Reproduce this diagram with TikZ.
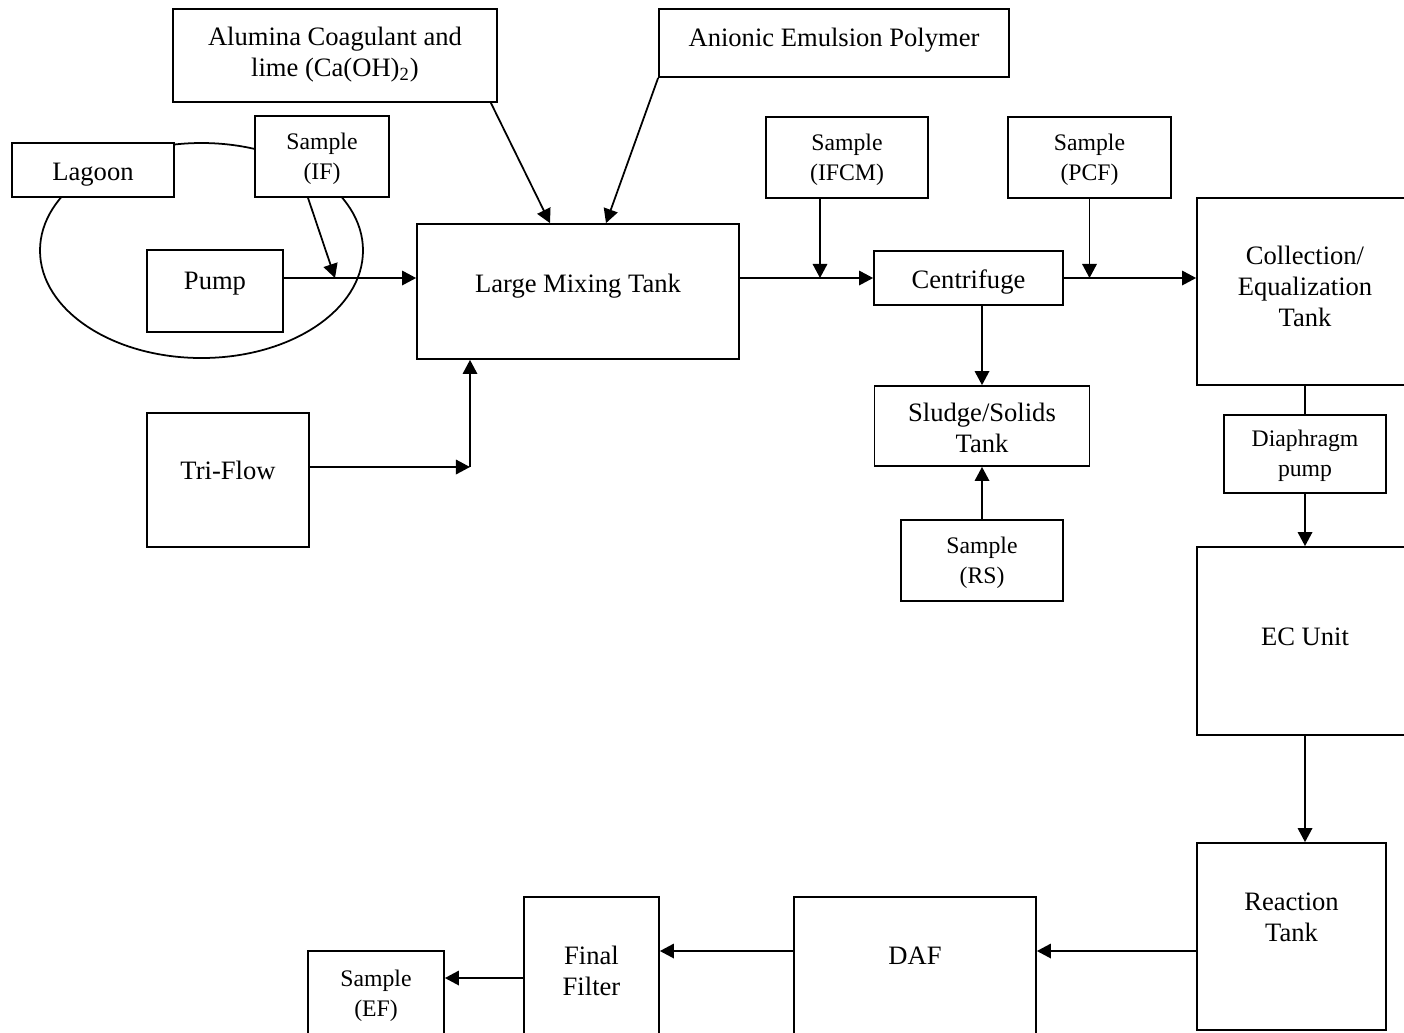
\documentclass[tikz,border=0pt]{standalone}
\usepackage{fontspec}
\setmainfont{Liberation Serif}
\usetikzlibrary{arrows.meta}

\begin{document}
\begin{tikzpicture}[
  block/.style={draw, line width=0.8pt, fill=white, align=center, font=\fontsize{12.1pt}{14.1pt}\selectfont},
  sample/.style={block, font=\fontsize{10.8pt}{13.7pt}\selectfont, text height=20.8pt, text depth=0pt},
  textpos/.style 2 args={text height=#1, text depth=#2},
  pointer/.style={draw, line width=0.8pt, -{Triangle[length=6.4pt,width=6.6pt]}}
]
\useasboundingbox (0,0) rectangle (22.464,-16.512);

% Lagoon loop
\draw[line width=0.8pt] (3.224,-4.008) ellipse (2.584cm and 1.72cm);

% Nodes
\node[block, textpos={18.9pt}{0pt}, minimum width=5.184cm, minimum height=1.488cm] (alum) at (5.36,-0.888) {Alumina Coagulant and\\lime (Ca(OH)\textsubscript{2})};
\node[block, textpos={8.5pt}{5.1pt}, minimum width=5.6cm, minimum height=1.088cm] (poly) at (13.344,-0.688) {Anionic Emulsion Polymer};
\node[block, textpos={9.8pt}{0pt}, minimum width=2.592cm, minimum height=0.864cm] (lagoon) at (1.488,-2.72) {Lagoon};
\node[sample, minimum width=2.144cm, minimum height=1.296cm] (sif) at (5.152,-2.504) {Sample\\(IF)};
\node[block, textpos={8.5pt}{10.1pt}, minimum width=2.176cm, minimum height=1.312cm] (pump) at (3.44,-4.656) {Pump};
\node[block, textpos={8.5pt}{7.7pt}, minimum width=5.152cm, minimum height=2.16cm] (mix) at (9.248,-4.664) {Large Mixing Tank};
\node[block, textpos={8.5pt}{8.7pt}, minimum width=2.592cm, minimum height=2.144cm] (tri) at (3.648,-7.68) {Tri-Flow};
\node[sample, minimum width=2.592cm, minimum height=1.296cm] (sifcm) at (13.552,-2.52) {Sample\\(IFCM)};
\node[block, textpos={9.8pt}{0pt}, minimum width=3.024cm, minimum height=0.864cm] (cent) at (15.496,-4.448) {Centrifuge};
\node[sample, minimum width=2.608cm, minimum height=1.296cm] (spcf) at (17.432,-2.52) {Sample\\(PCF)};
\node[block, textpos={32.2pt}{0pt}, minimum width=3.456cm, minimum height=2.992cm] (coll) at (20.88,-4.664) {Collection/\\Equalization\\Tank};
\node[sample, minimum width=2.592cm, minimum height=1.248cm] (diaph) at (20.88,-7.264) {Diaphragm\\pump};
\node[block, textpos={8.5pt}{4.1pt}, minimum width=3.456cm, minimum height=3.008cm] (ec) at (20.88,-10.256) {EC Unit};
\node[block, textpos={8.5pt}{3.7pt}, minimum width=3.024cm, minimum height=2.992cm] (react) at (20.664,-14.984) {Reaction\\Tank};
\node[block, textpos={8.5pt}{10.1pt}, minimum width=3.872cm, minimum height=2.224cm] (daf) at (14.64,-15.464) {DAF};
\node[block, textpos={26.7pt}{0pt}, minimum width=2.16cm, minimum height=2.224cm] (ff) at (9.464,-15.464) {Final\\Filter};
\node[sample, minimum width=2.176cm, minimum height=1.36cm] (sef) at (6.016,-15.896) {Sample\\(EF)};
\node[block, textpos={23.9pt}{0pt}, minimum width=3.44cm, minimum height=1.28cm] (sludge) at (15.712,-6.816) {Sludge/Solids\\Tank};
\node[sample, minimum width=2.592cm, minimum height=1.296cm] (srs) at (15.712,-8.968) {Sample\\(RS)};

% Junctions on the flow lines
\coordinate (jif) at (5.36,-4.448);
\coordinate (jtri) at (7.52,-7.472);
\coordinate (jifcm) at (13.12,-4.448);

% Arrows between nodes
\draw[pointer] ([xshift=-0.112cm]alum.south east) -- ([xshift=-0.448cm]mix.north);
\draw[pointer] (poly.south west) -- ([xshift=0.448cm]mix.north);
\draw[pointer] ([xshift=-0.224cm]sif.south) -- (jif);
\draw[pointer] (pump.east |- jif) -- (mix.west |- jif);
\draw[pointer] (tri.east |- jtri) -- (jtri);
\draw[pointer] (jtri) -- (jtri |- mix.south);
\draw[pointer] (mix.east |- cent.west) -- (cent.west);
\draw[pointer] (jifcm |- sifcm.south) -- (jifcm);
\draw[pointer] (cent.east) -- (coll.west |- cent.east);
\draw[pointer] (spcf.south) -- (spcf.south |- cent.east);
\draw[pointer] (sludge.north |- cent.south) -- (sludge.north);
\draw[pointer] (srs) -- (sludge);
\draw[line width=0.8pt] (coll) -- (diaph);
\draw[pointer] (diaph) -- (ec);
\draw[pointer] (ec.south) -- (ec.south |- react.north);

% Bottom row, right to left
\draw[pointer] ([yshift=-0.232cm]react.west) -- ([yshift=-0.232cm]react.west -| daf.east);
\draw[pointer] ([yshift=0.248cm]daf.west) -- ([yshift=0.248cm]daf.west -| ff.east);
\draw[pointer] ([yshift=-0.184cm]ff.west) -- ([yshift=-0.184cm]ff.west -| sef.east);

\end{tikzpicture}
\end{document}
